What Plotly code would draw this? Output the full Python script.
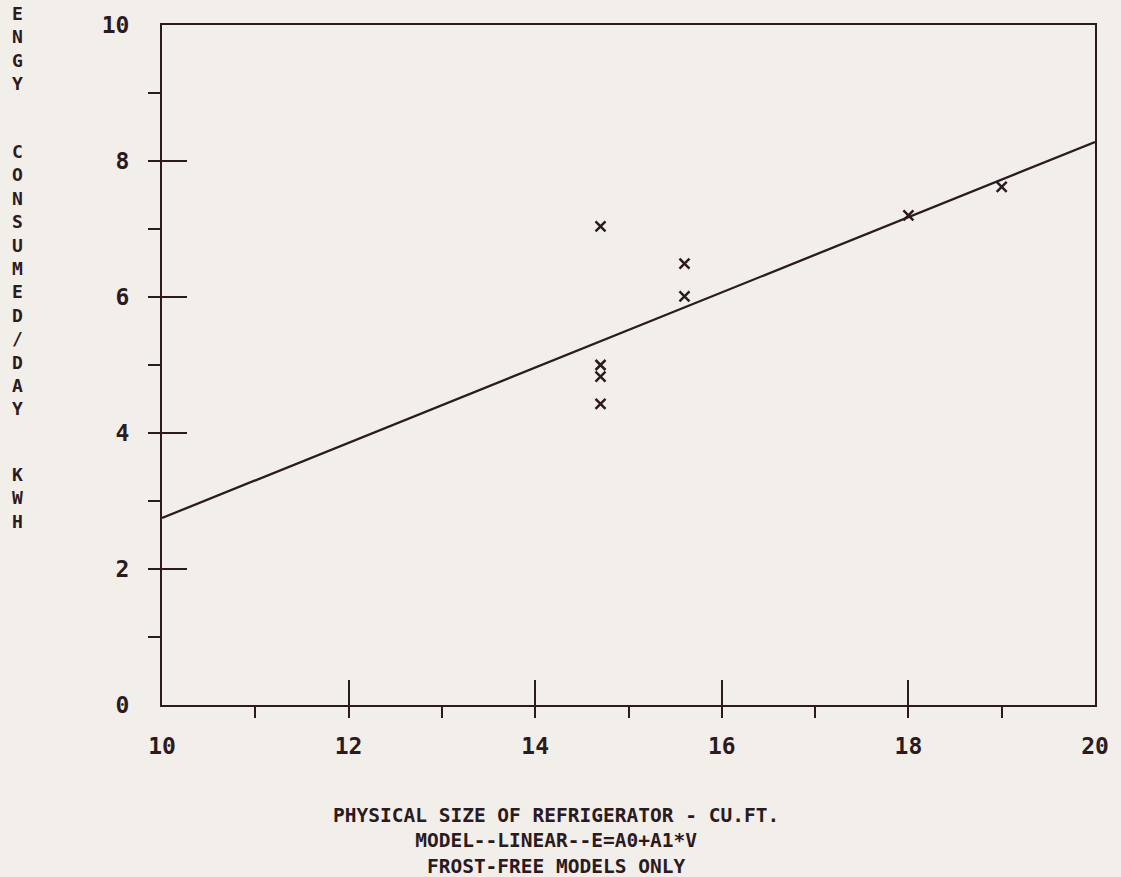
import plotly.graph_objects as go

# Data
size_cuft = [14.7, 14.7, 14.7, 14.7, 15.6, 15.6, 18.0, 19.0]
energy_kwh = [7.04, 5.0, 4.83, 4.43, 6.49, 6.01, 7.2, 7.62]
fit_x = [10, 20]
fit_y = [2.75, 8.28]

x_ticks = [10, 12, 14, 16, 18, 20]
y_ticks = [0, 2, 4, 6, 8, 10]
x_title_lines = ["PHYSICAL SIZE OF REFRIGERATOR - CU.FT.",
                 "MODEL--LINEAR--E=A0+A1*V",
                 "FROST-FREE MODELS ONLY"]
y_title_words = ["ENGY", "CONSUMED/DAY", "KWH"]

INK = "#2b1b20"
BG = "#f2eeea"
FONT = "DejaVu Sans Mono"

PAGE_W, PAGE_H = 1121, 877
PL, PR, PT, PB = 162, 1105, 25, 705          # plot area in page pixels
plot_w, plot_h = PR - PL, PB - PT

# initial size fits inside the default 8px body margin; the post script then
# removes the body margin and enlarges the figure to the full window
OFF = 8
W0, H0 = PAGE_W - 2 * OFF, PAGE_H - 2 * OFF
L0, T0 = PL - OFF, PT - OFF
R0 = W0 - (PR - OFF)
B0 = H0 - (PB - OFF)


def px_to_paper(px, py):
    return (px - PL) / plot_w, (PB - py) / plot_h


fig = go.Figure()
fig.add_trace(go.Scatter(x=fit_x, y=fit_y, mode="lines",
                         line=dict(color=INK, width=2.3), hoverinfo="skip"))
fig.add_trace(go.Scatter(x=size_cuft, y=energy_kwh, mode="markers",
                         marker=dict(symbol="x-thin", size=10,
                                     line=dict(color=INK, width=2.5))))

annotations = []
ax, ay = px_to_paper(PAGE_W / 2, 841)
annotations.append(dict(
    text="<br>".join(x_title_lines), xref="paper", yref="paper",
    x=ax, y=ay, xanchor="center", yanchor="middle", align="center",
    showarrow=False, font=dict(family=FONT, size=19.5, color=INK, weight="bold")))

word_centers = [49, 280, 498]
for word, cy in zip(y_title_words, word_centers):
    wx, wy = px_to_paper(16, cy)
    annotations.append(dict(
        text="<br>".join(list(word)), xref="paper", yref="paper",
        x=wx, y=wy, xanchor="center", yanchor="middle", align="center",
        showarrow=False, font=dict(family=FONT, size=18, color=INK, weight="bold")))

fig.update_layout(
    width=W0, height=H0,
    margin=dict(l=L0, r=R0, t=T0, b=B0),
    paper_bgcolor=BG, plot_bgcolor=BG,
    showlegend=False,
    annotations=annotations,
    xaxis=dict(range=[10, 20], tickvals=x_ticks, ticktext=[str(v) for v in x_ticks],
               ticks="inside", ticklen=25, tickwidth=2, tickcolor=INK,
               showline=True, mirror=True, linecolor=INK, linewidth=2,
               showgrid=False, zeroline=False, ticklabelstandoff=19,
               ticklabeloverflow="allow",
               tickfont=dict(family=FONT, size=23, color=INK, weight="bold"),
               minor=dict(dtick=1, tick0=10, ticks="outside", ticklen=11,
                          tickwidth=2, tickcolor=INK, showgrid=False)),
    yaxis=dict(range=[0, 10], tickvals=y_ticks, ticktext=[str(v) for v in y_ticks],
               ticks="inside", ticklen=25, tickwidth=2, tickcolor=INK,
               showline=True, mirror=True, linecolor=INK, linewidth=2,
               showgrid=False, zeroline=False, ticklabelstandoff=26,
               tickfont=dict(family=FONT, size=23, color=INK, weight="bold"),
               minor=dict(dtick=1, tick0=0, ticks="outside", ticklen=12,
                          tickwidth=2, tickcolor=INK, showgrid=False)),
)

post = (
    "document.body.style.margin='0';"
    "document.body.style.background='%s';"
    "var gd=document.getElementById('{plot_id}');"
    "gd.style.width='%dpx';gd.style.height='%dpx';"
    "Plotly.relayout(gd,{width:%d,height:%d,'margin.l':%d,'margin.r':%d,"
    "'margin.t':%d,'margin.b':%d});"
) % (BG, PAGE_W, PAGE_H, PAGE_W, PAGE_H, PL, PAGE_W - PR, PT, PAGE_H - PB)

fig.write_html("out.html", config={"displayModeBar": False}, post_script=post)
